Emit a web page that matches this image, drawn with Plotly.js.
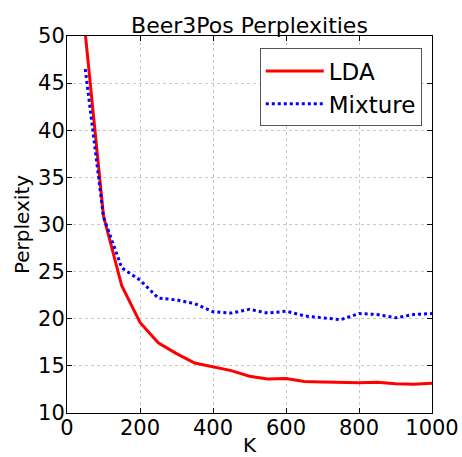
<!DOCTYPE html>
<html>
<head>
<meta charset="utf-8">
<script src="https://cdn.plot.ly/plotly-3.0.1.min.js"></script>
<style>html,body{margin:0;padding:0;background:#fff;}#chart{width:462px;height:457px;}</style>
</head>
<body>
<div id="chart"></div>
<script>
const K = [50,100,150,200,250,300,350,400,450,500,550,600,650,700,750,800,850,900,950,1000];
const ldaValues = [50.3,30.9,23.5,19.6,17.45,16.3,15.3,14.9,14.5,13.9,13.6,13.65,13.35,13.3,13.25,13.2,13.25,13.1,13.05,13.15];
const mixtureValues = [46.5,30.8,25.4,24.1,22.2,22.0,21.6,20.75,20.6,21.0,20.6,20.8,20.3,20.1,19.9,20.55,20.45,20.1,20.45,20.55];
const xTicks = [0,200,400,600,800,1000];
const yTicks = [10,15,20,25,30,35,40,45,50];

const font = "DejaVu Sans, sans-serif";
const traces = [
  {x: K, y: ldaValues, name: "LDA", mode: "lines", line: {color: "#ff0000", width: 3}},
  {x: K, y: mixtureValues, name: "Mixture", mode: "lines", line: {color: "#0000ff", width: 3, dash: "dot"}}
];
const axisCommon = {
  showline: true, linecolor: "#000", linewidth: 1, mirror: "all",
  ticks: "inside", ticklen: 5, tickcolor: "#000",
  showgrid: true, gridcolor: "#c8c8c8", griddash: "dot", gridwidth: 1,
  zeroline: false
};
const layout = {
  width: 462, height: 457,
  margin: {l: 67, r: 30, t: 36, b: 44},
  paper_bgcolor: "#fff", plot_bgcolor: "#fff",
  font: {family: font, color: "#000"},
  title: {text: "Beer3Pos Perplexities", font: {family: font, size: 22, color: "#000"},
    xref: "paper", x: 0.5, xanchor: "center", yref: "paper", y: 1, yanchor: "bottom", pad: {b: 3}},
  xaxis: Object.assign({}, axisCommon, {range: [0,1000], tickvals: xTicks, ticktext: xTicks.map(String),
    tickfont: {family: font, size: 21, color: "#000"}, ticklabelstandoff: -4,
    title: {text: "K", font: {family: font, size: 20}, standoff: 5}}),
  yaxis: Object.assign({}, axisCommon, {range: [10,50], tickvals: yTicks, ticktext: yTicks.map(String),
    tickfont: {family: font, size: 21, color: "#000"}, ticklabelstandoff: -3,
    title: {text: "Perplexity", font: {family: font, size: 20}, standoff: 3}}),
  legend: {x: 0.972, y: 0.967, xanchor: "right", yanchor: "top", bgcolor: "#fff",
    bordercolor: "#555", borderwidth: 1, font: {family: font, size: 23, color: "#000"},
    itemwidth: 58},
  showlegend: true
};
Plotly.newPlot("chart", traces, layout, {staticPlot: true, displayModeBar: false});
</script>
</body>
</html>
